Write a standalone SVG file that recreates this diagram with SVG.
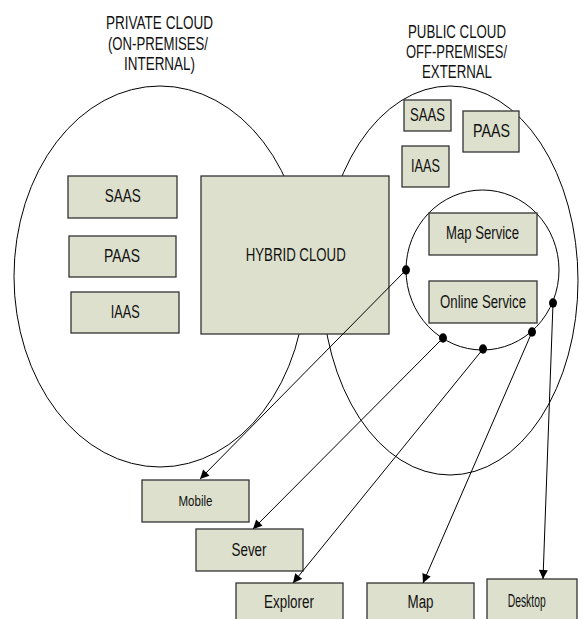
<svg xmlns="http://www.w3.org/2000/svg" width="582" height="619" viewBox="0 0 582 619">
<defs>
<style>
.cloud{fill:none;stroke:#000;stroke-width:1}
.box{fill:#dde0cc;stroke:#333;stroke-width:1.3}
.t{font-family:"Liberation Sans",Arial,sans-serif;font-size:18px;fill:#111;text-anchor:middle}
.s{font-size:15px}
.c{stroke:#000;stroke-width:1;fill:none;marker-end:url(#ah)}
.dot{fill:#000}
</style>
<marker id="ah" viewBox="0 0 10 10" refX="10" refY="5" markerWidth="11" markerHeight="9" markerUnits="userSpaceOnUse" orient="auto">
<path d="M0,0 L10,5 L0,10 Z" fill="#000"/>
</marker>
</defs>
<g id="private-cloud">
<ellipse class="cloud" cx="160" cy="276.5" rx="146" ry="190.5"/>
<text class="t" x="159.5" y="29" textLength="107" lengthAdjust="spacingAndGlyphs">PRIVATE CLOUD</text>
<text class="t" x="158" y="49.5" textLength="100" lengthAdjust="spacingAndGlyphs">(ON-PREMISES/</text>
<text class="t" x="159.5" y="70" textLength="71" lengthAdjust="spacingAndGlyphs">INTERNAL)</text>
</g>
<g id="public-cloud">
<ellipse class="cloud" cx="450" cy="280.5" rx="128" ry="194.5"/>
<text class="t" x="457" y="38" textLength="98" lengthAdjust="spacingAndGlyphs">PUBLIC CLOUD</text>
<text class="t" x="456.5" y="58" textLength="101" lengthAdjust="spacingAndGlyphs">OFF-PREMISES/</text>
<text class="t" x="457" y="78" textLength="70" lengthAdjust="spacingAndGlyphs">EXTERNAL</text>
</g>
<g id="private-saas"><rect class="box" x="68" y="176" width="109" height="42"/><text class="t" x="122.8" y="202" textLength="36" lengthAdjust="spacingAndGlyphs">SAAS</text></g>
<g id="private-paas"><rect class="box" x="69" y="236" width="107" height="41"/><text class="t" x="122" y="261.7" textLength="36" lengthAdjust="spacingAndGlyphs">PAAS</text></g>
<g id="private-iaas"><rect class="box" x="71" y="292" width="108" height="41"/><text class="t" x="125.3" y="317.7" textLength="29" lengthAdjust="spacingAndGlyphs">IAAS</text></g>
<g id="hybrid-cloud"><rect class="box" x="201" y="176" width="188" height="158"/><text class="t" x="295.7" y="260.7" textLength="100" lengthAdjust="spacingAndGlyphs">HYBRID CLOUD</text></g>
<g id="public-saas"><rect class="box" x="404" y="100" width="47" height="31"/><text class="t" x="427.5" y="121" textLength="35" lengthAdjust="spacingAndGlyphs">SAAS</text></g>
<g id="public-paas"><rect class="box" x="463" y="111" width="56" height="41"/><text class="t" x="491.5" y="137" textLength="37" lengthAdjust="spacingAndGlyphs">PAAS</text></g>
<g id="public-iaas"><rect class="box" x="402" y="146" width="47" height="41"/><text class="t" x="425.5" y="172" textLength="29" lengthAdjust="spacingAndGlyphs">IAAS</text></g>
<g id="services">
<ellipse class="cloud" cx="482.5" cy="270" rx="76.5" ry="80"/>
</g>
<g id="map-service"><rect class="box" x="429" y="213" width="108" height="42"/><text class="t" x="482.5" y="239" textLength="73" lengthAdjust="spacingAndGlyphs">Map Service</text></g>
<g id="online-service"><rect class="box" x="429" y="281" width="108" height="42"/><text class="t" x="483" y="308" textLength="86" lengthAdjust="spacingAndGlyphs">Online Service</text></g>
<g id="mobile"><rect class="box" x="142" y="480" width="107" height="42"/><text class="t s" x="195.5" y="505.7" textLength="34" lengthAdjust="spacingAndGlyphs">Mobile</text></g>
<g id="sever"><rect class="box" x="196" y="529" width="107" height="42"/><text class="t" x="249" y="556" textLength="35" lengthAdjust="spacingAndGlyphs">Sever</text></g>
<g id="explorer"><rect class="box" x="236" y="583" width="107" height="42"/><text class="t" x="289" y="608" textLength="50" lengthAdjust="spacingAndGlyphs">Explorer</text></g>
<g id="map"><rect class="box" x="367" y="583" width="107" height="42"/><text class="t" x="420.5" y="608" textLength="26" lengthAdjust="spacingAndGlyphs">Map</text></g>
<g id="desktop"><rect class="box" x="487" y="579" width="90" height="46"/><text class="t" x="526.7" y="606.7" textLength="38" lengthAdjust="spacingAndGlyphs">Desktop</text></g>
<g id="connectors">
<line class="c" x1="406" y1="270" x2="200" y2="479"/>
<line class="c" x1="443" y1="338" x2="253" y2="529"/>
<line class="c" x1="483" y1="349" x2="293" y2="583"/>
<line class="c" x1="532" y1="332" x2="423" y2="583"/>
<line class="c" x1="553" y1="303" x2="543" y2="579"/>
<ellipse class="dot" cx="406" cy="270" rx="4" ry="4.7"/>
<ellipse class="dot" cx="443" cy="338" rx="4" ry="4.7"/>
<ellipse class="dot" cx="483" cy="349" rx="4" ry="4.7"/>
<ellipse class="dot" cx="532" cy="332" rx="4" ry="4.7"/>
<ellipse class="dot" cx="553" cy="303" rx="4" ry="4.7"/>
</g>
</svg>
